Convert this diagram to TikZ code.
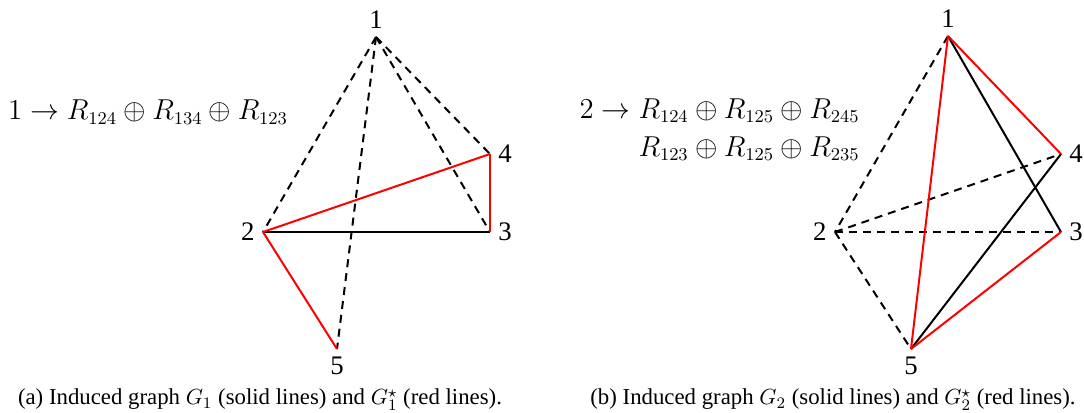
\documentclass[tikz,border=0pt]{standalone}
\usepackage{amsmath}
\usepackage{fontspec}
\setmainfont{Liberation Serif}
\usetikzlibrary{positioning}

\begin{document}
\begin{tikzpicture}[x=0.5pt, y=-0.5pt, node distance=1.5pt,
        vlabel/.style={inner sep=0pt, font=\fontsize{13.4}{16}\selectfont},
        formula/.style={inner sep=0pt, font=\fontsize{13.4}{16}\selectfont},
        caption/.style={inner sep=0pt, font=\fontsize{11.4}{13}\selectfont},
        dashedge/.style={draw=black, line width=1pt, dash pattern=on 4pt off 3pt},
        solidedge/.style={draw=black, line width=1pt},
        rededge/.style={draw=red, line width=1pt}]
        \useasboundingbox (0,0) rectangle (1084,413);

        % left graph (a)
        \coordinate (a1) at (376,37);
        \coordinate (a2) at (263,232);
        \coordinate (a3) at (490,232);
        \coordinate (a4) at (490,154);
        \coordinate (a5) at (337,349);
        \node[vlabel] (la1) [above=4pt of a1] {1};
        \node[vlabel] (la2) [left=4pt of a2] {2};
        \node[vlabel] (la3) [right=4pt of a3] {3};
        \node[vlabel] (la4) [right=4pt of a4] {4};
        \node[vlabel] (la5) [below=4pt of a5] {5};

        \path (a1) edge [dashedge] (a2);
        \path (a1) edge [dashedge] (a5);
        \path (a1) edge [dashedge] (a3);
        \path (a1) edge [dashedge] (a4);
        \path (a2) edge [solidedge] (a3);
        \path (a2) edge [rededge] (a4);
        \path (a4) edge [rededge] (a3);
        \path (a2) edge [rededge] (a5);

        \node[formula] (fa) at (148,112) {$1 \to R_{124} \oplus R_{134} \oplus R_{123}$};
        \node[caption] (capa) at (260,400) {(a) Induced graph $G_1$ (solid lines) and $G_1^\star$ (red lines).};

        % right graph (b)
        \coordinate (b1) at (948,36);
        \coordinate (b2) at (835,232);
        \coordinate (b3) at (1061,232);
        \coordinate (b4) at (1061,154);
        \coordinate (b5) at (911,349);
        \node[vlabel] (lb1) [above=4pt of b1] {1};
        \node[vlabel] (lb2) [left=4pt of b2] {2};
        \node[vlabel] (lb3) [right=4pt of b3] {3};
        \node[vlabel] (lb4) [right=4pt of b4] {4};
        \node[vlabel] (lb5) [below=4pt of b5] {5};

        \path (b1) edge [dashedge] (b2);
        \path (b2) edge [dashedge] (b4);
        \path (b2) edge [dashedge] (b3);
        \path (b2) edge [dashedge] (b5);
        \path (b1) edge [solidedge] (b3);
        \path (b4) edge [solidedge] (b5);
        \path (b1) edge [rededge] (b4);
        \path (b1) edge [rededge] (b5);
        \path (b5) edge [rededge] (b3);

        \node[formula, anchor=east] (fb) at (860,131)
            {$\begin{aligned} 2 \to{} & R_{124} \oplus R_{125} \oplus R_{245}\\
              & R_{123} \oplus R_{125} \oplus R_{235}\end{aligned}$};
        \node[caption] (capb) at (833,400) {(b) Induced graph $G_2$ (solid lines) and $G_2^\star$ (red lines).};
\end{tikzpicture}
\end{document}
